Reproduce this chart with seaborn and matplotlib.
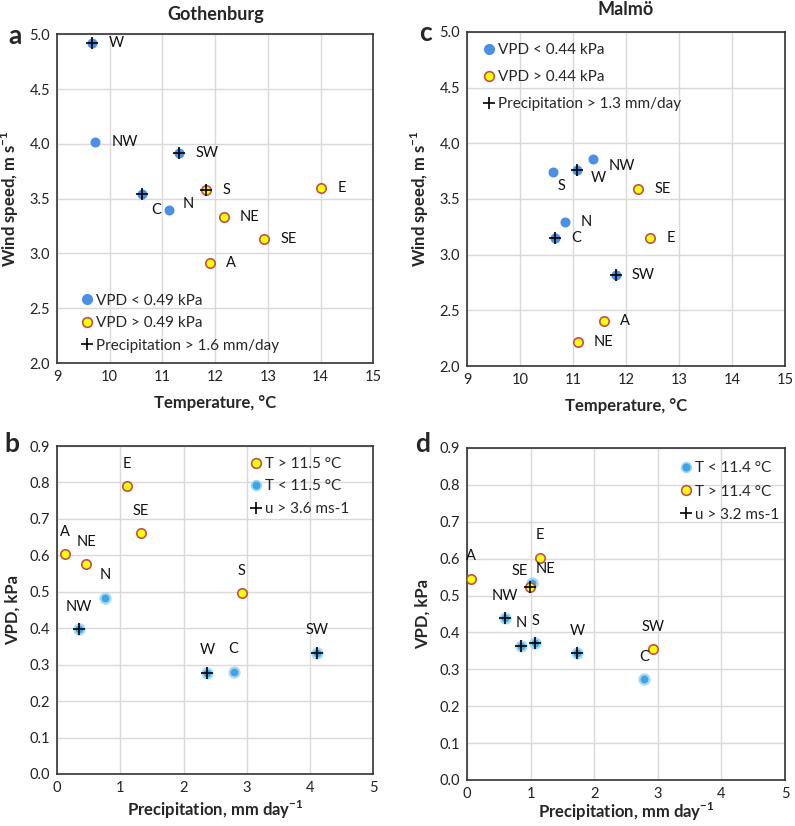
import matplotlib
matplotlib.use("Agg")
import matplotlib.pyplot as plt
import seaborn as sns
import pandas as pd
from matplotlib.lines import Line2D

# weather types
regions = ["A", "C", "E", "N", "NE", "NW", "S", "SE", "SW", "W"]

# Gothenburg
got_temp = [11.91, 10.62, 14.01, 11.12, 12.16, 9.73, 11.83, 12.93, 11.32, 9.67]
got_wind = [2.91, 3.54, 3.60, 3.40, 3.33, 4.02, 3.58, 3.13, 3.92, 4.92]
got_precip = [0.12, 2.79, 1.11, 0.76, 0.46, 0.34, 2.92, 1.33, 4.11, 2.37]
got_vpd = [0.603, 0.281, 0.791, 0.484, 0.576, 0.398, 0.496, 0.661, 0.333, 0.278]
got_cuts = {"vpd": 0.49, "precip": 1.6, "temp": 11.5, "wind": 3.6}

# Malmo
mal_temp = [11.58, 10.67, 12.46, 10.85, 11.09, 11.38, 10.63, 12.23, 11.81, 11.07]
mal_wind = [2.40, 3.15, 3.15, 3.29, 2.22, 3.86, 3.74, 3.59, 2.82, 3.76]
mal_precip = [0.06, 2.79, 1.15, 0.85, 1.02, 0.59, 1.07, 0.99, 2.92, 1.73]
mal_vpd = [0.546, 0.274, 0.603, 0.364, 0.535, 0.438, 0.372, 0.524, 0.354, 0.343]
mal_cuts = {"vpd": 0.44, "precip": 1.3, "temp": 11.4, "wind": 3.2}

BLUE = "#4b8fe6"
CYAN = "#3ea4e2"
YELLOW = "#ffff00"
RED = "#c0504d"

sns.set_theme(style="whitegrid")
plt.rcParams["font.family"] = ["Lato", "DejaVu Sans"]
plt.rcParams["mathtext.fontset"] = "custom"
plt.rcParams["mathtext.rm"] = "Lato"
plt.rcParams["mathtext.bf"] = "Lato:bold"


def make_df(temp, wind, precip, vpd):
    return pd.DataFrame({"region": regions, "temp": temp, "wind": wind,
                         "precip": precip, "vpd": vpd})


def style_ax(ax, xlim, ylim, xticks, yticks, yfmt):
    ax.set_xlim(*xlim)
    ax.set_ylim(*ylim)
    ax.set_xticks(xticks)
    ax.set_yticks(yticks)
    ax.set_yticklabels([yfmt.format(v) for v in yticks])
    ax.set_xticklabels([f"{v:g}" for v in xticks])
    ax.grid(True, color="#d9d9d9", lw=1)
    ax.set_facecolor("white")
    for s in ax.spines.values():
        s.set_color("#333333")
        s.set_linewidth(1.2)
    ax.tick_params(length=0, pad=5, labelsize=10.5, colors="#222222")


def draw(ax, df, x, y, low_mask, plus_mask, low_color, glow):
    low = df[low_mask]
    high = df[~low_mask]
    sns.scatterplot(data=low, x=x, y=y, color=low_color, s=52,
                    edgecolor=glow if glow else low_color,
                    linewidth=1.6 if glow else 0, ax=ax, legend=False, zorder=3)
    sns.scatterplot(data=high, x=x, y=y, color=YELLOW, s=46, edgecolor=RED,
                    linewidth=1.2, ax=ax, legend=False, zorder=4)
    sns.scatterplot(data=df[plus_mask], x=x, y=y, marker="+", color="black",
                    s=80, linewidth=1.2, ax=ax, legend=False, zorder=5)


def label(ax, df, x, y, offsets, default):
    for _, r in df.iterrows():
        dx, dy, ha = offsets.get(r["region"], default)
        ax.annotate(r["region"], (r[x], r[y]), xytext=(dx, dy),
                    textcoords="offset points", ha=ha, va="center",
                    fontsize=10.5, color="#111111", zorder=6)


def legend(ax, entries, loc, anchor, spacing):
    handles = []
    for kind, text in entries:
        if kind == "blue":
            h = Line2D([], [], ls="", marker="o", ms=7, mfc=BLUE, mec=BLUE)
        elif kind == "cyan":
            h = Line2D([], [], ls="", marker="o", ms=7, mfc=CYAN, mec="#9fd6f3", mew=1.2)
        elif kind == "yellow":
            h = Line2D([], [], ls="", marker="o", ms=7, mfc=YELLOW, mec=RED, mew=1.2)
        else:
            h = Line2D([], [], ls="", marker="+", ms=9, mec="black", mew=1.2)
        handles.append((h, text))
    ax.legend([h for h, _ in handles], [t for _, t in handles], loc=loc,
              bbox_to_anchor=anchor, frameon=False, fontsize=11,
              handletextpad=0.1, handlelength=1.0, labelspacing=spacing,
              borderaxespad=0)


fig = plt.figure(figsize=(7.95, 8.26), dpi=100)
ax_a = fig.add_axes([0.0717, 0.5605, 0.398, 0.398])
ax_c = fig.add_axes([0.5874, 0.5569, 0.400, 0.4044])
ax_b = fig.add_axes([0.0717, 0.0630, 0.398, 0.397])
ax_d = fig.add_axes([0.5874, 0.0557, 0.400, 0.402])

got = make_df(got_temp, got_wind, got_precip, got_vpd)
mal = make_df(mal_temp, mal_wind, mal_precip, mal_vpd)

tx = [9, 10, 11, 12, 13, 14, 15]
ty = [2.0, 2.5, 3.0, 3.5, 4.0, 4.5, 5.0]
px = [0, 1, 2, 3, 4, 5]
py = [0.0, 0.1, 0.2, 0.3, 0.4, 0.5, 0.6, 0.7, 0.8, 0.9]

wind_lab = r"Wind speed, m s$^{\mathbf{-1}}$"
temp_lab = "Temperature, °C"
vpd_lab = "VPD, kPa"
prec_lab = r"Precipitation, mm day$^{\mathbf{-1}}$"

right = (11.5, 0, "left")
above = (0, 16, "center")

# a
draw(ax_a, got, "temp", "wind", got["vpd"] < got_cuts["vpd"],
     got["precip"] > got_cuts["precip"], BLUE, None)
label(ax_a, got, "temp", "wind",
      {"C": (10, -11, "center"), "N": (10, 4, "left")}, right)
style_ax(ax_a, (9, 15), (2, 5), tx, ty, "{:.1f}")
legend(ax_a, [("blue", "VPD < 0.49 kPa"), ("yellow", "VPD > 0.49 kPa"),
              ("plus", "Precipitation > 1.6 mm/day")], "lower left", (0.052, 0.013), 0.55)

# c
draw(ax_c, mal, "temp", "wind", mal["vpd"] < mal_cuts["vpd"],
     mal["precip"] > mal_cuts["precip"], BLUE, None)
label(ax_c, mal, "temp", "wind",
      {"S": (6, -10, "center"), "W": (10, -6, "left"), "NW": (11, -5, "left")}, right)
style_ax(ax_c, (9, 15), (2, 5), tx, ty, "{:.1f}")
legend(ax_c, [("blue", "VPD < 0.44 kPa"), ("yellow", "VPD > 0.44 kPa"),
              ("plus", "Precipitation > 1.3 mm/day")], "upper left", (0.027, 0.985), 0.85)

# b
draw(ax_b, got, "precip", "vpd", got["temp"] < got_cuts["temp"],
     got["wind"] > got_cuts["wind"], CYAN, "#a5d9f5")
label(ax_b, got, "precip", "vpd", {}, above)
style_ax(ax_b, (0, 5), (0, 0.9), px, py, "{:.1f}")
legend(ax_b, [("yellow", "T > 11.5 °C"), ("cyan", "T < 11.5 °C"),
              ("plus", "u > 3.6 ms-1")], "upper left", (0.585, 0.985), 0.55)

# d
draw(ax_d, mal, "precip", "vpd", mal["temp"] < mal_cuts["temp"],
     mal["wind"] > mal_cuts["wind"], CYAN, "#a5d9f5")
label(ax_d, mal, "precip", "vpd",
      {"NE": (10, 10, "center"), "SE": (-7, 11, "center")}, above)
style_ax(ax_d, (0, 5), (0, 0.9), px, py, "{:.1f}")
legend(ax_d, [("cyan", "T < 11.4 °C"), ("yellow", "T > 11.4 °C"),
              ("plus", "u > 3.2 ms-1")], "upper left", (0.645, 0.978), 0.6)

for ax, xl, yl, lp in [(ax_a, temp_lab, wind_lab, 8), (ax_c, temp_lab, wind_lab, 8),
                       (ax_b, prec_lab, vpd_lab, 3), (ax_d, prec_lab, vpd_lab, 0)]:
    ax.set_xlabel(xl, fontsize=12, fontweight="bold", labelpad=lp)
    ax.set_ylabel(yl, fontsize=12, fontweight="bold", labelpad=6)

ax_a.set_title("Gothenburg", fontsize=13, fontweight="bold", pad=10)
ax_c.set_title("Malmö", fontsize=13, fontweight="bold", pad=12)

for x, y, t in [(0.019, 0.957, "a"), (0.535, 0.960, "c"),
                (0.015, 0.462, "b"), (0.531, 0.462, "d")]:
    fig.text(x, y, t, fontsize=19, fontweight="bold", ha="center", va="center")

fig.savefig("out.png", dpi=100)
